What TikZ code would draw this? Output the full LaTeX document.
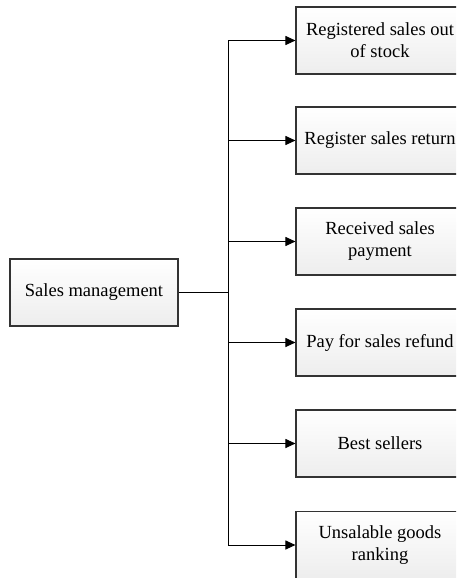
\documentclass[tikz,border=0pt]{standalone}
\usepackage{fontspec}
\setmainfont{Liberation Serif}
\usetikzlibrary{arrows.meta}
\begin{document}
\begin{tikzpicture}[x=1pt,y=-1pt,
  box/.style={draw=black!80, line width=1.1pt, top color=white, bottom color=black!7,
    minimum width=168pt, minimum height=67pt, align=center, inner sep=0pt,
    font=\fontsize{18.5pt}{22pt}\selectfont},
  link/.style={line width=1pt, draw=black},
  arr/.style={link, -{Triangle[length=10pt,width=9pt]}}]
  \useasboundingbox (0,0) rectangle (456,578);
  \clip (0,0) rectangle (456,578);
  % root of the tree
  \node[box] (main) at (94,292.5) {Sales management};
  % the six sub-functions
  \node[box] (b1) at (380,40.5)  {Registered sales out\\of stock};
  \node[box] (b2) at (380,140.5) {Register sales return};
  \node[box] (b3) at (380,241.5) {Received sales\\payment};
  \node[box] (b4) at (380,342.5) {Pay for sales refund};
  \node[box] (b5) at (380,443.5) {Best sellers};
  \node[box] (b6) at (380,545)   {Unsalable goods\\ranking};
  % branching point
  \coordinate (j) at (228,292.5);
  \draw[link] (main.east) -- (j);
  \foreach \b in {b1,b2,b3,b4,b5,b6}
    \draw[arr] (j) |- (\b.west);
\end{tikzpicture}
\end{document}
